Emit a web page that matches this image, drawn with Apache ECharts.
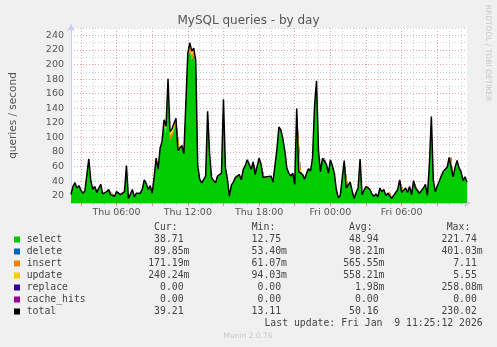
<!DOCTYPE html>
<html>
<head>
<meta charset="utf-8">
<script src="https://cdn.jsdelivr.net/npm/echarts@6/dist/echarts.min.js"></script>
<style>
html,body{margin:0;padding:0;background:#f0f0f0;}
#c{width:497px;height:347px;}
</style>
</head>
<body>
<div id="c"></div>
<script>
// ---- time slots: Thu 02:10 .. Fri 11:30, 10-minute steps ----
const startMinute = 130;
const stepMinutes = 10;
const slotCount = 201;
const tickLabels = ['Thu 06:00', 'Thu 12:00', 'Thu 18:00', 'Fri 00:00', 'Fri 06:00'];

// ---- series values (queries / second) ----
const selectVals = [
21,32,37,30,33,27,23,26,24,69,
40,28,32,24,22,35,22,23,25,28,
21,23,19,25,24,21,20,25,60,16,
22,28,18,23,22,23,28,41,36,28,
33,23,45,70,55,83,92,116,105,173,
96,100,102,121,80,78,87,76,75,210,
219,206,213,200,60,42,37,35,46,133,
76,44,40,37,46,45,50,149,57,42,
19,34,38,44,43,48,41,55,60,68,
62,55,65,48,50,70,62,44,42,45,
47,46,38,60,82,112,108,96,80,57,
50,46,50,35,137,52,53,48,42,50,
56,53,71,140,174,80,52,70,71,62,
50,68,60,50,28,17,20,22,67,30,
28,38,26,16,24,30,69,21,27,32,
32,28,22,19,22,18,30,25,28,20,
23,25,16,20,24,28,41,24,26,30,
24,32,21,40,30,28,23,21,30,35,
20,62,126,40,25,33,39,46,52,55,
58,71,72,45,58,67,57,52,40,45,
38];
const deleteVals = [
.09,.08,.1,.07,.09,.11,.08,.06,.09,.12,
.1,.08,.07,.09,.1,.08,.06,.07,.09,.08,
.07,.06,.08,.09,.07,.06,.08,.07,.11,.06,
.07,.08,.06,.07,.08,.07,.09,.1,.09,.08,
.09,.07,.1,.14,.12,.16,.15,.2,.18,.4,
.22,.25,.2,.24,.15,.14,.16,.13,.14,.3,
.35,.32,.33,.28,.12,.1,.09,.08,.1,.2,
.13,.1,.09,.08,.1,.1,.11,.22,.12,.1,
.06,.08,.09,.1,.1,.11,.09,.12,.13,.14,
.13,.12,.13,.1,.11,.14,.13,.1,.1,.1,
.11,.1,.09,.12,.15,.19,.18,.17,.14,.12,
.11,.1,.11,.08,.22,.11,.12,.1,.09,.11,
.12,.11,.14,.24,.28,.15,.11,.13,.14,.12,
.11,.13,.12,.11,.07,.05,.06,.06,.13,.07,
.07,.09,.06,.05,.06,.07,.12,.06,.07,.08,
.08,.07,.06,.06,.06,.05,.07,.07,.07,.06,
.06,.07,.05,.06,.06,.07,.09,.06,.07,.07,
.06,.08,.06,.09,.07,.07,.06,.06,.07,.08,
.06,.12,.2,.09,.07,.08,.09,.1,.11,.12,
.12,.14,.14,.1,.12,.13,.12,.11,.09,.1,
.09];
const insertVals = [
.2,.3,.35,.25,.3,.2,.15,.2,.2,.6,
.3,.2,.25,.15,.15,.3,.15,.15,.2,.2,
.15,.15,.1,.2,.15,.15,.1,.2,.5,.06,
.15,.2,.1,.15,.15,.15,.2,.35,.3,.2,
.25,.15,.3,.7,.5,.9,1.2,5,6,4,
7.1,6,5,3,.8,.7,.9,.7,.6,3,
6,7,5,3,.5,.3,.3,.25,.4,1.2,
.6,.3,.3,.25,.4,.35,.4,1.5,.5,.3,
.1,.25,.3,.35,.3,.4,.3,.5,.5,.6,
.5,.45,.55,.4,.4,.6,.5,.35,.3,.35,
.4,.35,.3,.5,.7,1,.9,.8,.6,.45,
.4,.35,.4,.25,1.2,.4,.45,.35,.3,.4,
.45,.4,.6,1.3,1.6,.7,.4,.6,.6,.5,
.4,.55,.5,.4,.2,.1,.15,.15,.6,.2,
.2,.3,.2,.1,.15,.2,.6,.15,.2,.25,
.25,.2,.15,.12,.15,.12,.2,.18,.2,.15,
.15,.18,.1,.15,.18,.2,.35,.18,.2,.22,
.18,.25,.15,.3,.22,.2,.15,.15,.22,.28,
.15,.5,1.1,.3,.2,.25,.3,.4,.45,.5,
.5,.6,.65,.35,.5,.55,.5,.45,.3,.35,
.17];
const updateVals = [
.3,.4,.45,.35,.4,.3,.25,.3,.3,.7,
.4,.3,.35,.25,.2,.4,.2,.2,.3,.3,
.2,.25,.15,.3,.2,.2,.15,.3,.6,.1,
.2,.3,.15,.2,.2,.2,.3,.4,.35,.3,
.3,.2,.4,.8,.6,1,1.5,3,4,3,
4.5,5.5,3,2,.9,.8,1,.8,.7,2,
4,5,4,2,.6,.4,.35,.3,.45,1.3,
.7,.4,.35,.3,.45,.4,.5,1.6,.55,.4,
.12,.3,.35,.4,.35,.45,.35,.55,.6,.65,
.6,.5,.6,.45,.45,.7,.6,.4,.35,.4,
.45,.4,.35,.6,.8,1.1,1,.9,.7,.5,
.45,.4,.45,.3,1.3,.45,.5,.4,.35,.45,
.5,.45,.65,1.4,1.7,.8,.45,.65,.65,.55,
.45,.6,.55,.45,.25,.1,.15,.2,.6,.25,
.25,.35,.2,.1,.2,.25,.65,.2,.25,.3,
.3,.25,.2,.15,.2,.15,.25,.2,.25,.2,
.2,.2,.12,.2,.2,.25,.4,.2,.25,.25,
.2,.3,.2,.35,.25,.25,.2,.2,.25,.3,
.2,.55,1.2,.35,.25,.3,.35,.45,.5,.55,
.55,.65,.7,.4,.55,.6,.55,.5,.35,.4,
.24];
const replaceVals = [
0,0,0,0,0,0,0,0,0,0, 0,0,0,0,0,0,0,0,0,0, 0,0,0,0,0,0,0,0,0,0, 0,0,0,0,0,0,0,0,0,0,
0,0,0,0,0,0,0,0,0,0, 0,0,0,0,0,0,0,0,0,0, .26,0,0,0,0,0,0,0,0,0, 0,0,0,0,0,0,0,0,0,0,
0,0,0,0,0,0,0,0,0,0, 0,0,0,0,0,0,0,0,0,0, 0,0,0,0,0,0,0,0,0,0, 0,0,0,0,0,0,0,0,0,0,
0,0,0,0,0,0,0,0,0,0, 0,0,0,0,0,0,0,0,0,0, 0,0,0,0,0,0,0,0,0,0, 0,0,0,0,0,0,0,0,0,0,
0,0,0,0,0,0,0,0,0,0, 0,0,0,0,0,0,0,0,0,0, 0,0,0,0,0,0,0,0,0,0, 0,0,0,0,0,0,0,0,0,0,
0,0,0,0,0,0,0,0,0,0, 0];
const cacheHitsVals = [
0,0,0,0,0,0,0,0,0,0, 0,0,0,0,0,0,0,0,0,0, 0,0,0,0,0,0,0,0,0,0, 0,0,0,0,0,0,0,0,0,0,
0,0,0,0,0,0,0,0,0,0, 0,0,0,0,0,0,0,0,0,0, 0,0,0,0,0,0,0,0,0,0, 0,0,0,0,0,0,0,0,0,0,
0,0,0,0,0,0,0,0,0,0, 0,0,0,0,0,0,0,0,0,0, 0,0,0,0,0,0,0,0,0,0, 0,0,0,0,0,0,0,0,0,0,
0,0,0,0,0,0,0,0,0,0, 0,0,0,0,0,0,0,0,0,0, 0,0,0,0,0,0,0,0,0,0, 0,0,0,0,0,0,0,0,0,0,
0,0,0,0,0,0,0,0,0,0, 0,0,0,0,0,0,0,0,0,0, 0,0,0,0,0,0,0,0,0,0, 0,0,0,0,0,0,0,0,0,0,
0,0,0,0,0,0,0,0,0,0, 0];

// ---- legend table ----
const seriesNames = ['select', 'delete', 'insert', 'update', 'replace', 'cache_hits', 'total'];
const curVals = ['38.71', '89.85m', '171.19m', '240.24m', '0.00', '0.00', '39.21'];
const minVals = ['12.75', '53.40m', '61.07m', '94.03m', '0.00', '0.00', '13.11'];
const avgVals = ['48.94', '98.21m', '565.55m', '558.21m', '1.98m', '0.00', '50.16'];
const maxVals = ['221.74', '401.03m', '7.11', '5.55', '258.08m', '0.00', '230.02'];
const columnHeaders = ['Cur:', 'Min:', 'Avg:', 'Max:'];
const titleText = 'MySQL queries - by day';
const yAxisTitle = 'queries / second';
const lastUpdateText = 'Last update: Fri Jan  9 11:25:12 2026';
const footerText = 'Munin 2.0.76';
const sideText = 'RRDTOOL / TOBI OETIKER';

// ---- styles ----
const seriesColors = ['#00CC00', '#0066B3', '#FF8000', '#FFCC00', '#330099', '#990099', '#000000'];
const stackedData = [selectVals, deleteVals, insertVals, updateVals, replaceVals, cacheHitsVals];

const categories = [];
for (let i = 0; i < slotCount; i++) {
  const m = startMinute + i * stepMinutes;
  const day = m < 1440 ? 'Thu' : 'Fri';
  const mm = m % 1440;
  const hh = Math.floor(mm / 60), mi = mm % 60;
  categories.push(day + ' ' + String(hh).padStart(2, '0') + ':' + String(mi).padStart(2, '0'));
}
const minuteOf = idx => startMinute + idx * stepMinutes;
const isHour = idx => minuteOf(idx) % 60 === 0;
const isMajor = idx => minuteOf(idx) % 180 === 0;

const totalVals = selectVals.map((v, i) => {
  let s = 0;
  stackedData.forEach(arr => { s += arr[i]; });
  return +s.toFixed(2);
});

const axisBlue = '#c4ccf2';
const minorGrid = '#d0d0d0';
const majorGrid = '#f0a0a0';
const fontSans = 'DejaVu Sans';
const fontMono = 'DejaVu Sans Mono';

// stacked areas; the thin upper layers are painted beneath the select area
const seriesZ = [4, 3, 3, 3, 2, 2];
const series = stackedData.map((arr, k) => ({
  name: seriesNames[k],
  type: 'line',
  stack: 'q',
  data: arr,
  symbol: 'none',
  xAxisIndex: 0,
  lineStyle: { width: 0, opacity: 0 },
  areaStyle: { color: seriesColors[k], opacity: 1 },
  itemStyle: { color: seriesColors[k] },
  silent: true,
  z: seriesZ[k]
}));
series.push({
  name: 'total',
  type: 'line',
  data: totalVals,
  symbol: 'none',
  xAxisIndex: 0,
  lineStyle: { width: 1.5, color: '#000' },
  silent: true,
  z: 5
});

// legend graphics
const graphics = [];
const rowTop = 239.5, rowGap = 12;
const colRight = [189.5, 287, 384.5, 482.7];
const headerLeft = [154, 251.7, 349, 446.7];
const legendFont = '9.8px ' + fontMono;
columnHeaders.forEach((h, c) => {
  graphics.push({ type: 'text', x: headerLeft[c], y: 227.5,
    style: { text: h, font: legendFont, fill: '#444', textAlign: 'left', textVerticalAlign: 'middle' } });
});
const pad = s => /[a-z]$/.test(s) ? s : s + ' ';
seriesNames.forEach((n, r) => {
  const y = rowTop + r * rowGap;
  graphics.push({ type: 'rect', shape: { x: 14, y: y - 3, width: 6, height: 6 },
    style: { fill: seriesColors[r] } });
  graphics.push({ type: 'text', x: 26.7, y: y,
    style: { text: n, font: legendFont, fill: '#444', textAlign: 'left', textVerticalAlign: 'middle' } });
  [curVals, minVals, avgVals, maxVals].forEach((col, c) => {
    graphics.push({ type: 'text', x: colRight[c], y: y,
      style: { text: pad(col[r]), font: legendFont, fill: '#444', textAlign: 'right', textVerticalAlign: 'middle' } });
  });
});
graphics.push({ type: 'text', x: 482.7, y: 323.5,
  style: { text: lastUpdateText, font: legendFont, fill: '#444', textAlign: 'right', textVerticalAlign: 'middle' } });
graphics.push({ type: 'text', x: 248, y: 336.5,
  style: { text: footerText, font: '7.5px ' + fontSans, fill: '#c8c8c8', textAlign: 'center', textVerticalAlign: 'middle' } });
graphics.push({ type: 'text', x: 487.5, y: 53, rotation: -Math.PI / 2,
  style: { text: sideText, font: '7.5px ' + fontSans, fill: '#c8c8c8', textAlign: 'center', textVerticalAlign: 'middle' } });

const chart = echarts.init(document.getElementById('c'), null, { renderer: 'canvas' });
chart.setOption({
  animation: false,
  backgroundColor: '#f0f0f0',
  textStyle: { fontFamily: fontSans },
  title: {
    text: titleText, left: 'center', top: 10,
    textStyle: { fontFamily: fontSans, fontSize: 12, fontWeight: 'normal', color: '#555' }
  },
  grid: { left: 67, top: 28, width: 400, height: 175, show: true, backgroundColor: '#ffffff', borderWidth: 0 },
  xAxis: [
    {
      type: 'category', data: categories, boundaryGap: false, position: 'bottom',
      axisLine: { show: true, lineStyle: { color: axisBlue, width: 1 }, symbol: ['none', 'arrow'], symbolSize: [6, 7], symbolOffset: [0, 4] },
      axisTick: { show: true, length: 2, interval: (i) => isHour(i) && !isMajor(i), lineStyle: { color: '#bbbbbb' } },
      axisLabel: { interval: (i, v) => tickLabels.indexOf(v) >= 0, fontFamily: fontSans, fontSize: 9.5, color: '#555', margin: 5 },
      splitLine: { show: true, interval: (i) => isHour(i) && !isMajor(i), lineStyle: { color: minorGrid, type: [1, 2], width: 1 } },
      z: 2
    },
    {
      type: 'category', data: categories, boundaryGap: false, position: 'bottom', offset: 0,
      axisLine: { show: false },
      axisTick: { show: true, length: 3, interval: (i) => isMajor(i), lineStyle: { color: '#f08080' } },
      axisLabel: { show: false },
      splitLine: { show: true, interval: (i) => isMajor(i), lineStyle: { color: majorGrid, type: [1, 2], width: 1 } },
      z: 2
    }
  ],
  yAxis: {
    type: 'value', min: 10, max: 250, interval: 10,
    name: yAxisTitle, nameLocation: 'middle', nameGap: 52,
    nameTextStyle: { fontFamily: fontSans, fontSize: 10.5, color: '#555' },
    axisLine: { show: true, lineStyle: { color: axisBlue, width: 1 }, symbol: ['none', 'arrow'], symbolSize: [6, 7], symbolOffset: [0, 4] },
    axisTick: { show: false },
    axisLabel: { formatter: v => (v % 20 === 0 ? String(v) : ''), fontFamily: fontSans, fontSize: 9.5, color: '#555', margin: 7 },
    splitLine: { show: true, lineStyle: { color: [minorGrid, majorGrid], type: [1, 2], width: 1 } }
  },
  series: series,
  graphic: graphics
});
</script>
</body>
</html>
